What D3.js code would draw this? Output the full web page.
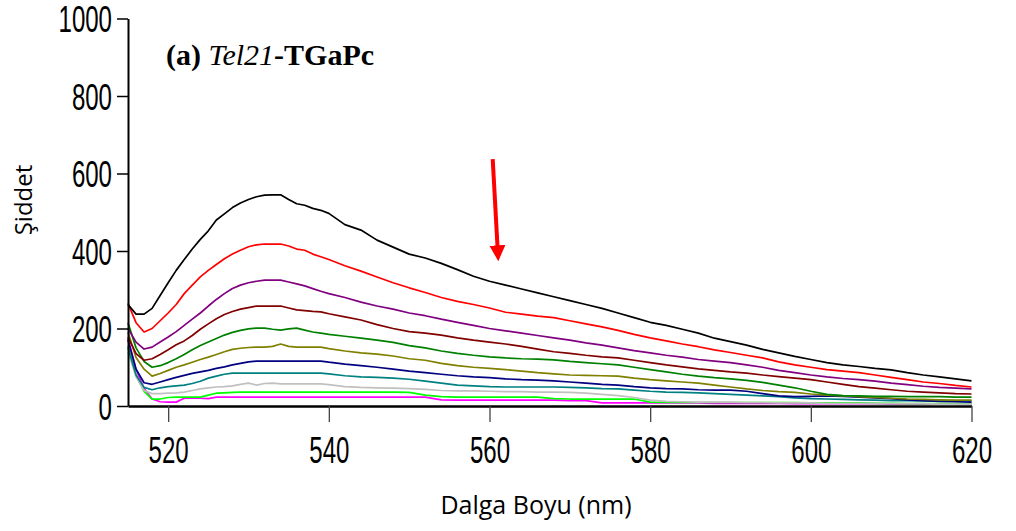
<!DOCTYPE html>
<html>
<head>
<meta charset="utf-8">
<script src="https://cdn.jsdelivr.net/npm/d3@7"></script>
<style>
  html, body { margin: 0; padding: 0; background: #fff; }
  svg { display: block; }
</style>
</head>
<body>
<svg id="chart" width="1016" height="531"></svg>
<script>
// Emission spectra, 515–620 nm
const wavelengths = [
  515,516,517,518,519,520,521,522,523,524,525,526,527,528,529,530,531,532,533,534,535,536,537,538,539,540,
  542,544,546,548,550,552,554,556,558,560,562,564,566,568,570,572,574,576,578,580,
  582,584,586,588,590,592,594,596,598,600,602,604,606,608,610,612,614,616,618,620
];

const blackSeries = [262,237,237,252,285,318,350,378,405,430,452,480,496,512,524,533,540,544,545,545,533,522,518,510,505,497,
  468,454,428,410,392,382,368,352,335,322,312,302,292,282,272,262,252,240,228,216,208,198,188,175,166,157,146,137,128,120,112,106,102,97,93,86,80,75,70,65];
const redSeries = [265,215,191,200,220,240,262,290,312,333,350,365,380,392,402,411,416,418,418,418,413,405,402,392,385,378,
  362,348,333,318,305,293,280,270,262,253,242,237,232,228,220,212,204,195,185,176,168,160,153,145,138,131,124,114,106,100,94,90,86,80,74,68,62,58,53,49];
const purpleSeries = [200,165,147,152,165,178,192,208,224,240,258,275,290,303,312,318,322,325,325,325,320,315,310,303,296,290,
  280,268,258,250,240,233,224,216,208,200,194,188,182,176,170,163,157,150,143,137,131,126,120,116,112,106,100,92,86,80,75,71,68,64,59,55,51,48,46,44];
const maroonSeries = [178,135,118,122,133,145,158,168,182,198,212,225,236,244,250,254,258,258,258,258,253,248,246,244,243,238,
  230,222,210,200,192,188,183,176,170,165,160,154,147,140,136,131,127,124,118,112,106,101,96,92,88,85,80,76,72,68,62,56,50,46,42,38,36,34,32,31];
const greenSeries = [215,150,115,100,104,112,122,133,145,156,165,174,183,190,195,199,201,201,198,196,199,201,196,191,188,185,
  180,175,170,164,156,150,142,136,131,127,124,122,121,119,115,112,109,106,100,94,88,82,77,73,70,66,61,54,47,38,30,27,26,25,25,24,24,24,23,23];
const oliveSeries = [190,125,95,77,84,92,100,106,113,120,126,133,140,146,149,151,152,152,154,160,154,152,152,152,152,148,
  142,137,134,129,122,118,110,104,100,97,94,90,86,83,80,79,78,77,72,68,65,62,59,54,49,44,40,37,35,31,28,26,24,22,20,18,17,16,15,15];
const navySeries = [170,95,60,56,62,68,74,79,84,88,92,97,101,106,110,114,116,116,116,116,116,116,116,116,116,113,
  108,104,100,95,90,86,82,78,75,73,70,68,67,65,62,59,56,54,50,47,45,44,42,41,41,38,32,26,24,25,26,25,23,21,19,16,14,12,11,10];
const tealSeries = [150,80,48,42,47,50,52,54,58,64,72,77,82,85,85,85,85,85,85,85,85,85,85,85,85,83,
  78,75,74,72,69,64,59,54,52,50,49,49,49,49,48,47,45,44,41,38,36,35,34,32,30,28,26,24,21,19,18,17,16,15,14,14,13,13,13,13];
const silverSeries = [140,75,40,32,32,33,34,36,40,44,47,49,50,52,56,59,54,58,59,57,57,57,57,57,57,55,
  50,48,47,46,45,43,40,39,39,38,37,37,36,36,35,33,30,27,22,15,12,11,10,10,10,9,9,8,8,8,7,7,7,6,6,6,6,5,5,5];
const limeSeries = [155,80,38,18,18,22,23,23,23,23,28,33,34,35,36,36,36,36,36,36,36,36,36,36,36,36,
  36,36,36,36,35,28,24,23,23,23,23,23,23,19,18,18,18,18,18,10,9,9,9,9,9,9,9,9,9,8,8,8,8,7,7,6,6,6,6,6];
const magentaSeries = [175,95,45,18,11,10,10,20,20,20,19,23,23,23,23,23,23,23,23,23,23,23,23,23,23,23,
  23,23,23,23,23,23,16,15,15,15,15,15,15,15,14,14,8,8,8,8,8,8,8,7,7,7,7,7,6,6,6,6,6,6,5,5,5,5,5,5];

// Drawing order: lowest intensity first, highest last
const seriesList = [
  { values: magentaSeries, color: "#ff00ff" },
  { values: limeSeries,    color: "#00ff00" },
  { values: silverSeries,  color: "#c0c0c0" },
  { values: tealSeries,    color: "#008080" },
  { values: navySeries,    color: "#000080" },
  { values: oliveSeries,   color: "#808000" },
  { values: greenSeries,   color: "#008000" },
  { values: maroonSeries,  color: "#800000" },
  { values: purpleSeries,  color: "#800080" },
  { values: redSeries,     color: "#ff0000" },
  { values: blackSeries,   color: "#000000" }
];

const xTicks = [520, 540, 560, 580, 600, 620];
const yTicks = [0, 200, 400, 600, 800, 1000];

// Arrow marking the decreasing trend (data units)
const arrowFrom = { x: 560.4, y: 637 };
const arrowTo   = { x: 561.1, y: 372 };

const svg = d3.select("#chart");

const x = d3.scaleLinear().domain([515, 620]).range([128, 971.5]);
const y = d3.scaleLinear().domain([0, 1000]).range([406, 18.5]);

const NUM_FONT = "'Liberation Sans', Arial, sans-serif";
const NUM_SCALE = 0.65;

// Spectra
const line = d3.line()
  .x((d, i) => x(wavelengths[i]))
  .y(d => y(d));

svg.append("g")
  .selectAll("path")
  .data(seriesList)
  .join("path")
  .attr("d", s => line(s.values))
  .attr("fill", "none")
  .attr("stroke", s => s.color)
  .attr("stroke-width", 1.7)
  .attr("stroke-linejoin", "round");

// Y axis
const yAxis = svg.append("g")
  .attr("transform", `translate(${x(515)},0)`)
  .call(d3.axisLeft(y).tickValues(yTicks).tickSize(11).tickSizeOuter(0).tickFormat(d3.format("d")));
yAxis.select(".domain").attr("stroke", "#000").attr("stroke-width", 2);
yAxis.selectAll(".tick line").attr("stroke", "#000").attr("stroke-width", 1.5);
yAxis.selectAll(".tick text")
  .attr("x", 0)
  .attr("dy", "0.36em")
  .attr("transform", `translate(-16,0) scale(${NUM_SCALE},1)`)
  .style("font-family", NUM_FONT)
  .style("font-size", "37px")
  .attr("fill", "#000");

// X axis
const xAxis = svg.append("g")
  .attr("transform", `translate(0,${y(0)})`)
  .call(d3.axisBottom(x).tickValues(xTicks).tickSize(16).tickSizeOuter(0).tickFormat(d3.format("d")));
xAxis.select(".domain").attr("stroke", "#000").attr("stroke-width", 2.5);
xAxis.selectAll(".tick line").attr("stroke", "#444").attr("stroke-width", 1.3);
xAxis.selectAll(".tick text")
  .attr("y", 57)
  .attr("dy", 0)
  .attr("transform", `scale(${NUM_SCALE},1)`)
  .style("font-family", NUM_FONT)
  .style("font-size", "37px")
  .attr("fill", "#000");

// Axis titles
svg.append("text")
  .attr("transform", "translate(32,200) rotate(-90)")
  .attr("text-anchor", "middle")
  .style("font-family", "'Open Sans', sans-serif")
  .style("font-size", "24px")
  .attr("fill", "#000")
  .text("Şiddet");

svg.append("text")
  .attr("x", 536)
  .attr("y", 514)
  .attr("text-anchor", "middle")
  .style("font-family", "'Open Sans', sans-serif")
  .style("font-size", "25px")
  .attr("fill", "#000")
  .text("Dalga Boyu (nm)");

// Panel title
const title = svg.append("text")
  .attr("x", 166)
  .attr("y", 65)
  .style("font-family", "'Liberation Serif', 'Times New Roman', serif")
  .style("font-size", "30px")
  .attr("fill", "#000");
title.append("tspan").style("font-weight", "bold").text("(a) ");
title.append("tspan").style("font-style", "italic").text("Tel21");
title.append("tspan").style("font-weight", "bold").text("-TGaPc");

// Trend arrow
svg.append("defs").append("marker")
  .attr("id", "arrowhead")
  .attr("viewBox", "0 0 10 10")
  .attr("refX", 2)
  .attr("refY", 5)
  .attr("markerUnits", "userSpaceOnUse")
  .attr("markerWidth", 16)
  .attr("markerHeight", 16)
  .attr("orient", "auto")
  .append("path")
  .attr("d", "M0,0 L10,5 L0,10 Z")
  .attr("fill", "#ff0000");

svg.append("line")
  .attr("x1", x(arrowFrom.x))
  .attr("y1", y(arrowFrom.y))
  .attr("x2", x(arrowTo.x) - (x(arrowTo.x) - x(arrowFrom.x)) * 0.13)
  .attr("y2", y(arrowTo.y) - (y(arrowTo.y) - y(arrowFrom.y)) * 0.13)
  .attr("stroke", "#ff0000")
  .attr("stroke-width", 4)
  .attr("marker-end", "url(#arrowhead)");
</script>
</body>
</html>
